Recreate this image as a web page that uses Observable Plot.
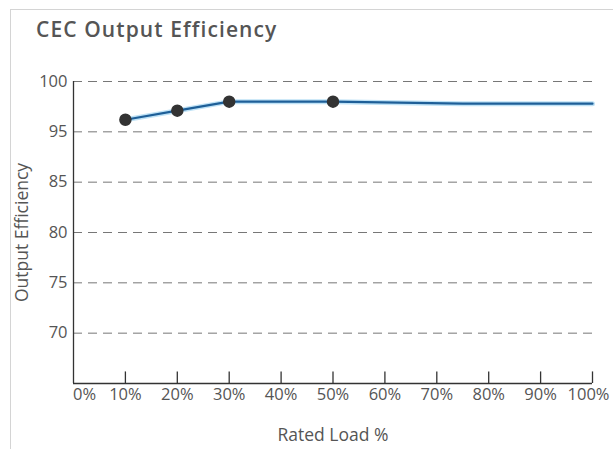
<!DOCTYPE html>
<html>
<head>
<meta charset="utf-8">
<script src="https://cdn.jsdelivr.net/npm/d3@7"></script>
<script src="https://cdn.jsdelivr.net/npm/@observablehq/plot@0.6"></script>
<style>
  html, body { margin: 0; padding: 0; background: #fff; overflow: hidden; }
  #wrap { position: relative; width: 613px; height: 449px; overflow: hidden; font-family: "Open Sans", sans-serif; }
  #border { position: absolute; left: 10px; top: 9px; width: 700px; height: 500px; border: 1px solid #d4d4d4; box-sizing: border-box; }
  #title { position: absolute; left: 36px; top: 15px; font-size: 21px; font-weight: 600; color: #555; letter-spacing: 1.1px; line-height: 28px; }
  #chart { position: absolute; left: 0; top: 50px; }
</style>
</head>
<body>
<div id="wrap">
  <div id="border"></div>
  <div id="title">CEC Output Efficiency</div>
  <div id="chart"></div>
</div>
<script>
const titleText = "CEC Output Efficiency";
const xLabel = "Rated Load %";
const yLabel = "Output Efficiency";

// rated load (%) and output efficiency for the curve
const loadLine = [10, 20, 30, 50, 75, 100];
const effLine = [96.2, 97.1, 98.0, 98.0, 97.8, 97.8];
// measured points shown as markers
const loadPts = [10, 20, 30, 50];
const effPts = [96.2, 97.1, 98.0, 98.0];

const xTicks = [0, 10, 20, 30, 40, 50, 60, 70, 80, 90, 100];
const yGrid = [100, 95, 90, 85, 80, 75];
const yTickLabels = ["100", "95", "85", "80", "75", "70"];

const lineData = loadLine.map((x, i) => ({x, y: effLine[i]}));
const ptData = loadPts.map((x, i) => ({x, y: effPts[i]}));

const xAxisCommon = {tickSize: 0, tickPadding: 5, tickFormat: d => d + "%", fill: "#555", fontSize: 16.5, label: null};

const plot = Plot.plot({
  width: 613,
  height: 399,
  marginLeft: 73,
  marginRight: 21,
  marginTop: 31,
  marginBottom: 66,
  style: {fontFamily: "Open Sans, sans-serif", fontSize: "16px", color: "#555", background: "transparent"},
  x: {domain: [0, 100]},
  y: {domain: [70, 100]},
  marks: [
    Plot.ruleY(yGrid, {stroke: "#777", strokeDasharray: "9,6", strokeWidth: 1}),
    Plot.ruleX(xTicks.filter(d => d > 0), {y1: 70, y2: 71.15, stroke: "#333", strokeWidth: 1.3}),
    Plot.ruleX([0], {stroke: "#333", strokeWidth: 1.3}),
    Plot.ruleY([70], {stroke: "#333", strokeWidth: 1.3}),
    Plot.axisX({...xAxisCommon, ticks: xTicks.slice(0, 1), dx: 11}),
    Plot.axisX({...xAxisCommon, ticks: xTicks.slice(1, -1)}),
    Plot.axisX({...xAxisCommon, ticks: xTicks.slice(-1), dx: -4}),
    Plot.axisY({
      ticks: yGrid, tickSize: 0, tickPadding: 6,
      tickFormat: d => yTickLabels[yGrid.indexOf(d)],
      fill: "#555", fontSize: 16.5,
      label: null
    }),
    Plot.text([xLabel], {frameAnchor: "bottom", dy: 57, fontSize: 17.5, fill: "#555"}),
    Plot.text([yLabel], {frameAnchor: "left", textAnchor: "middle", dx: -51, rotate: -90, fontSize: 17.5, fill: "#555"}),
    Plot.line(lineData, {x: "x", y: "y", stroke: "#bfe2f6", strokeWidth: 5}),
    Plot.line(lineData, {x: "x", y: "y", stroke: "#1e5f98", strokeWidth: 2.2}),
    Plot.dot(ptData, {x: "x", y: "y", r: 5.5, fill: "#333", stroke: "#333"})
  ]
});
document.getElementById("chart").appendChild(plot);
</script>
</body>
</html>
